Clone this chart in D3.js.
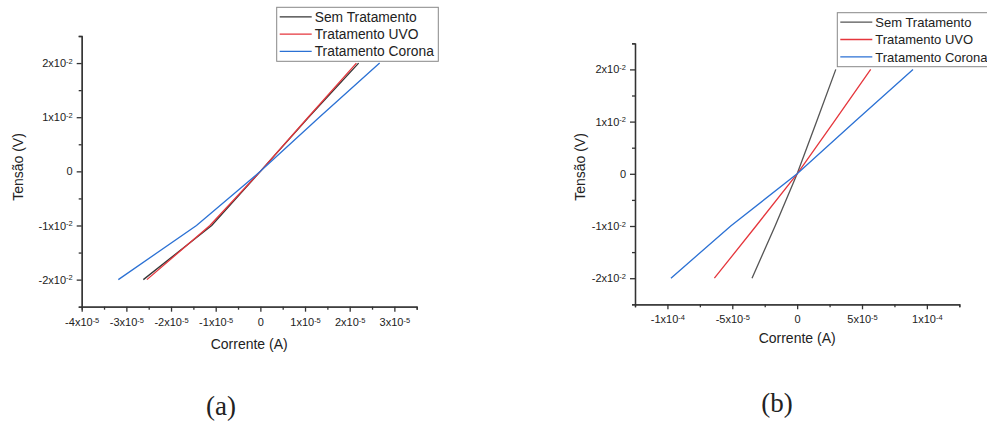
<!DOCTYPE html>
<html>
<head>
<meta charset="utf-8">
<script src="https://cdn.jsdelivr.net/npm/d3@7"></script>
<style>
  body { margin: 0; background: #fff; }
  svg { display: block; }
  text { font-family: "Liberation Sans", Arial, sans-serif; fill: #222; }
</style>
</head>
<body>
<svg id="chart" width="987" height="424"></svg>
<script>
// series names, shared by both panels
const seriesNames = ["Sem Tratamento", "Tratamento UVO", "Tratamento Corona"];

// panel (a): voltage (V) and current (A) per series
const voltageA = [-0.02, -0.01, 0, 0.01, 0.02];
const currentSemA = [-2.62e-5, -1.09e-5, 0, 1.08e-5, 2.2e-5];
const currentUvoA = [-2.54e-5, -1.13e-5, 0, 1.07e-5, 2.15e-5];
const currentCoronaA = [-3.18e-5, -1.43e-5, 0, 1.32e-5, 2.67e-5];
const xTicksA = [-4e-5, -3e-5, -2e-5, -1e-5, 0, 1e-5, 2e-5, 3e-5];
const xMinorA = [-3.5e-5, -2.5e-5, -1.5e-5, -0.5e-5, 0.5e-5, 1.5e-5, 2.5e-5, 3.5e-5];

// panel (b)
const voltageB = [-0.02, -0.01, 0, 0.01, 0.02];
const currentSemB = [-3.48e-5, -1.7e-5, 0, 1.5e-5, 2.98e-5];
const currentUvoB = [-6.38e-5, -3.17e-5, 0, 2.85e-5, 5.67e-5];
const currentCoronaB = [-9.73e-5, -5.12e-5, 0, 4.45e-5, 8.93e-5];
const xTicksB = [-1e-4, -5e-5, 0, 5e-5, 1e-4];
const xMinorB = [-1.25e-4, -7.5e-5, -2.5e-5, 2.5e-5, 7.5e-5, 1.25e-4];

// y ticks are the same for both
const yTicks = [-0.02, -0.01, 0, 0.01, 0.02];
const yMinor = [-0.025, -0.015, -0.005, 0.005, 0.015, 0.025];

const colorsA = ["#363636", "#e5363c", "#2b71d4"];
const colorsB = ["#555555", "#e5363c", "#2b71d4"];

const svg = d3.select("#chart");

function sciParts(v) {
    if (v === 0) return ["0", null];
    const e = Math.floor(Math.log10(Math.abs(v)) + 1e-9);
    const m = Math.round(v / Math.pow(10, e));
    return [m + "x10", String(e)];
}

function superscriptLabels(sel) {
    sel.selectAll(".tick text").each(function(d) {
        const [base, exp] = sciParts(d);
        const t = d3.select(this).text(base);
        if (exp) {
            t.append("tspan")
                .attr("dy", "-0.45em")
                .attr("font-size", "0.68em")
                .text(exp);
        }
    });
}

function drawPanel(p) {
    const x = d3.scaleLinear().domain(p.xDomain).range([p.left, p.right]);
    const y = d3.scaleLinear().domain([-0.025, 0.025]).range([p.bottom, p.top]);

    const g = svg.append("g");

    // minor ticks first, then major axis on top
    g.append("g")
        .attr("transform", `translate(0,${p.bottom})`)
        .call(d3.axisBottom(x).tickValues(p.xMinor).tickSize(3).tickFormat(""));
    g.append("g")
        .attr("transform", `translate(${p.left},0)`)
        .call(d3.axisLeft(y).tickValues(yMinor).tickSize(3).tickFormat(""));

    g.append("g")
        .attr("transform", `translate(0,${p.bottom})`)
        .call(d3.axisBottom(x).tickValues(p.xTicks).tickSize(5).tickSizeOuter(0).tickPadding(p.xPad))
        .call(superscriptLabels);
    g.append("g")
        .attr("transform", `translate(${p.left},0)`)
        .call(d3.axisLeft(y).tickValues(yTicks).tickSize(5).tickSizeOuter(0).tickPadding(4))
        .call(superscriptLabels);

    g.selectAll(".domain, .tick line").attr("stroke", "#333").attr("stroke-width", 1.3);
    g.selectAll(".tick text").attr("font-size", 11).attr("fill", "#222")
        .attr("font-family", "'Liberation Sans', Arial, sans-serif");

    // data lines
    const line = d3.line().x(d => x(d[0])).y(d => y(d[1]));
    p.series.forEach((cur, i) => {
        g.append("path")
            .datum(cur.map((c, k) => [c, p.voltage[k]]))
            .attr("fill", "none")
            .attr("stroke", p.colors[i])
            .attr("stroke-width", 1.3)
            .attr("d", line);
    });

    // axis titles
    g.append("text")
        .attr("x", (p.left + p.right) / 2)
        .attr("y", p.xTitleY)
        .attr("text-anchor", "middle")
        .attr("font-size", 14)
        .text("Corrente (A)");
    g.append("text")
        .attr("transform", `translate(${p.yTitleX},167) rotate(-90)`)
        .attr("text-anchor", "middle")
        .attr("font-size", 14)
        .text("Tensão (V)");

    // legend
    const lg = g.append("g").attr("transform", `translate(${p.legend.x},${p.legend.y})`);
    lg.append("rect")
        .attr("width", p.legend.w).attr("height", 54)
        .attr("fill", "#fff").attr("stroke", "#888").attr("stroke-width", 1);
    seriesNames.forEach((name, i) => {
        const cy = 9.5 + i * 17.3;
        lg.append("line")
            .attr("x1", 3).attr("x2", 35)
            .attr("y1", cy).attr("y2", cy)
            .attr("stroke", p.colors[i]).attr("stroke-width", 1.3);
        lg.append("text")
            .attr("x", 38).attr("y", cy + 5)
            .attr("font-size", p.legend.fs)
            .text(name);
    });

    // caption, serif like the LaTeX subfigure labels
    svg.append("text")
        .attr("x", p.capX).attr("y", p.capY)
        .attr("text-anchor", "middle")
        .style("font-family", "'Liberation Serif', 'DejaVu Serif', serif")
        .attr("font-size", 27)
        .text(p.caption);
}

drawPanel({
    xDomain: [-4e-5, 3.5e-5], left: 81.7, right: 416.7, top: 36, bottom: 306.7,
    xTicks: xTicksA, xMinor: xMinorA, xPad: 7,
    voltage: voltageA, series: [currentSemA, currentUvoA, currentCoronaA], colors: colorsA,
    xTitleY: 349, yTitleX: 23,
    legend: { x: 276.7, y: 7.3, w: 161.6, fs: 13.8 },
    caption: "(a)", capX: 221, capY: 415
});

drawPanel({
    xDomain: [-1.25e-4, 1.25e-4], left: 635, right: 959.3, top: 43.3, bottom: 304.3,
    xTicks: xTicksB, xMinor: xMinorB, xPad: 6,
    voltage: voltageB, series: [currentSemB, currentUvoB, currentCoronaB], colors: colorsB,
    xTitleY: 343, yTitleX: 585,
    legend: { x: 837.3, y: 12.7, w: 160, fs: 13 },
    caption: "(b)", capX: 777, capY: 412
});
</script>
</body>
</html>
